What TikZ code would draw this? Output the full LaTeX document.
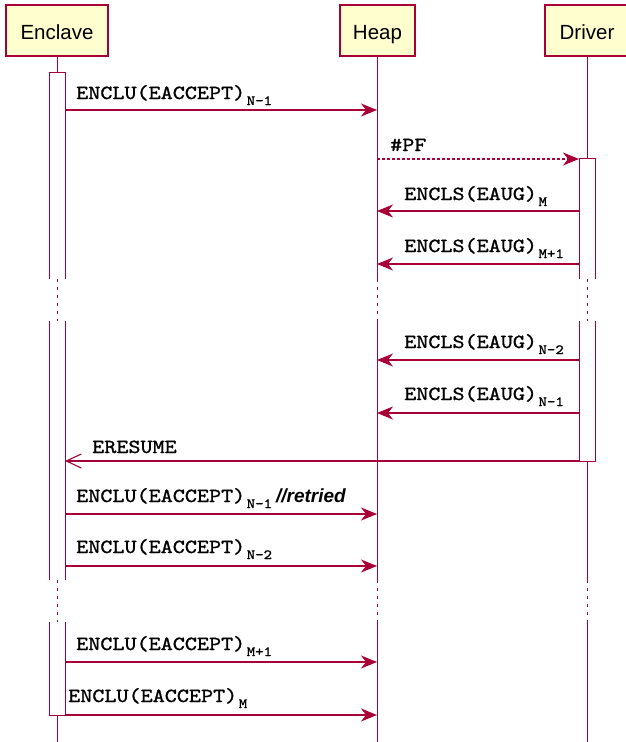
\documentclass[tikz,border=0pt]{standalone}
\usepackage{fontspec}
\setmainfont{Liberation Sans}
\newfontfamily\msgfam{lmmono10-regular.otf}[FakeStretch=1.15,FakeBold=1.2]
\newfontfamily\boxfam{Liberation Sans}
\usetikzlibrary{arrows.meta}
\definecolor{puml}{HTML}{A80036}
\definecolor{pfill}{HTML}{FEFECE}
\newcommand{\mainmsg}[1]{{\msgfam\fontsize{20}{24}\selectfont #1}}
\newcommand{\submsg}[1]{\hspace{1.5pt}\raisebox{-6pt}{\msgfam\fontsize{14}{16}\selectfont #1}}
\begin{document}
\begin{tikzpicture}[x=1pt,y=-1pt,
  actor/.style={draw=puml, line width=2.4pt, fill=pfill, inner sep=0pt,
    minimum height=51pt, font=\boxfam\fontsize{20.5}{24}\selectfont,
    text height=17pt, text depth=0pt},
  life/.style={draw=puml, line width=1pt},
  lifebreak/.style={draw=puml, line width=1pt, dash pattern=on 3pt off 5pt},
  actbar/.style={draw=puml, line width=1pt},
  actfill/.style={fill=white},
  call/.style={draw=puml, line width=1.3pt, -{Stealth[length=16pt,width=13pt,inset=5pt]}},
  pfcall/.style={call, dash pattern=on 3pt off 2pt},
  reply/.style={draw=puml, line width=1.1pt, -{Straight Barb[length=15pt,width=14pt]}},
  lbl/.style={anchor=base west, inner sep=0pt, text=black}
]
\useasboundingbox (0,0) rectangle (625,742);

% participants
\node[actor, minimum width=102pt] (enclave) at (57,30.5) {Enclave};
\node[actor, minimum width=75pt] (heap) at (377.5,30.5) {Heap};
\node[actor, minimum width=84pt] (driver) at (587,30.5) {Driver};

% lifeline coordinates
\coordinate (eTop) at (57,56);
\coordinate (eB1) at (57,279);
\coordinate (eC1) at (57,321);
\coordinate (eB2) at (57,580);
\coordinate (eC2) at (57,622);
\coordinate (eEnd) at (57,742);
\coordinate (hTop) at (377,56);
\coordinate (hB1) at (377,279);
\coordinate (hC1) at (377,321);
\coordinate (hB2) at (377,580);
\coordinate (hC2) at (377,622);
\coordinate (hEnd) at (377,742);
\coordinate (dTop) at (587,56);
\coordinate (dB1) at (587,279);
\coordinate (dC1) at (587,321);
\coordinate (dB2) at (587,580);
\coordinate (dC2) at (587,622);
\coordinate (dEnd) at (587,742);

% lifelines
\draw[life] (eTop) -- (eB1);
\draw[lifebreak] (eB1) -- (eC1);
\draw[life] (eC1) -- (eB2);
\draw[lifebreak] (eB2) -- (eC2);
\draw[life] (eC2) -- (eEnd);
\draw[life] (hTop) -- (hB1);
\draw[lifebreak] (hB1) -- (hC1);
\draw[life] (hC1) -- (hB2);
\draw[lifebreak] (hB2) -- (hC2);
\draw[life] (hC2) -- (hEnd);
\draw[life] (dTop) -- (dB1);
\draw[lifebreak] (dB1) -- (dC1);
\draw[life] (dC1) -- (dB2);
\draw[lifebreak] (dB2) -- (dC2);
\draw[life] (dC2) -- (dEnd);

% activation bars: enclave
\fill[actfill] (49,72) rectangle (65,279);
\draw[actbar] (49,279) -- (49,72) -- (65,72) -- (65,279);
\fill[actfill] (49,321) rectangle (65,580);
\draw[actbar] (49,321) -- (49,580);
\draw[actbar] (65,321) -- (65,580);
\fill[actfill] (49,622) rectangle (65,715);
\draw[actbar] (49,622) -- (49,715) -- (65,715) -- (65,622);
% activation bars: driver
\fill[actfill] (579,158) rectangle (595,279);
\draw[actbar] (579,279) -- (579,158) -- (595,158) -- (595,279);
\fill[actfill] (579,321) rectangle (595,461);
\draw[actbar] (579,321) -- (579,461) -- (595,461) -- (595,321);

% message end points
\coordinate (m1a) at (65,110);   \coordinate (m1b) at (377,110);
\coordinate (m2a) at (377,159);  \coordinate (m2b) at (579,159);
\coordinate (m3a) at (579,211);  \coordinate (m3b) at (377,211);
\coordinate (m4a) at (579,264);  \coordinate (m4b) at (377,264);
\coordinate (m5a) at (579,360);  \coordinate (m5b) at (377,360);
\coordinate (m6a) at (579,413);  \coordinate (m6b) at (377,413);
\coordinate (m7a) at (579,461);  \coordinate (m7b) at (65,461);
\coordinate (m8a) at (65,514);   \coordinate (m8b) at (377,514);
\coordinate (m9a) at (65,566);   \coordinate (m9b) at (377,566);
\coordinate (m10a) at (65,662);  \coordinate (m10b) at (377,662);
\coordinate (m11a) at (65,715);  \coordinate (m11b) at (377,715);

% messages
\draw[call] (m1a) -- (m1b);
\node[lbl] (l1) at (76,99) {\mainmsg{ENCLU(EACCEPT)}\submsg{N-1}};
\draw[pfcall] (m2a) -- (m2b);
\node[lbl] (l2) at (390,151) {\mainmsg{\#PF}};
\draw[call] (m3a) -- (m3b);
\node[lbl] (l3) at (404,200) {\mainmsg{ENCLS(EAUG)}\submsg{M}};
\draw[call] (m4a) -- (m4b);
\node[lbl] (l4) at (404,252) {\mainmsg{ENCLS(EAUG)}\submsg{M+1}};
\draw[call] (m5a) -- (m5b);
\node[lbl] (l5) at (404,348) {\mainmsg{ENCLS(EAUG)}\submsg{N-2}};
\draw[call] (m6a) -- (m6b);
\node[lbl] (l6) at (404,400) {\mainmsg{ENCLS(EAUG)}\submsg{N-1}};
\draw[reply] (m7a) -- (m7b);
\node[lbl] (l7) at (92,453) {\mainmsg{ERESUME}};
\draw[call] (m8a) -- (m8b);
\node[lbl] (l8) at (76,502) {\mainmsg{ENCLU(EACCEPT)}\submsg{N-1}\hspace{4pt}{\boxfam\fontsize{19}{22}\selectfont\bfseries\itshape //retried}};
\draw[call] (m9a) -- (m9b);
\node[lbl] (l9) at (76,553) {\mainmsg{ENCLU(EACCEPT)}\submsg{N-2}};
\draw[call] (m10a) -- (m10b);
\node[lbl] (l10) at (76,650) {\mainmsg{ENCLU(EACCEPT)}\submsg{M+1}};
\draw[call] (m11a) -- (m11b);
\node[lbl] (l11) at (68,702) {\mainmsg{ENCLU(EACCEPT)}\submsg{M}};
\end{tikzpicture}
\end{document}
